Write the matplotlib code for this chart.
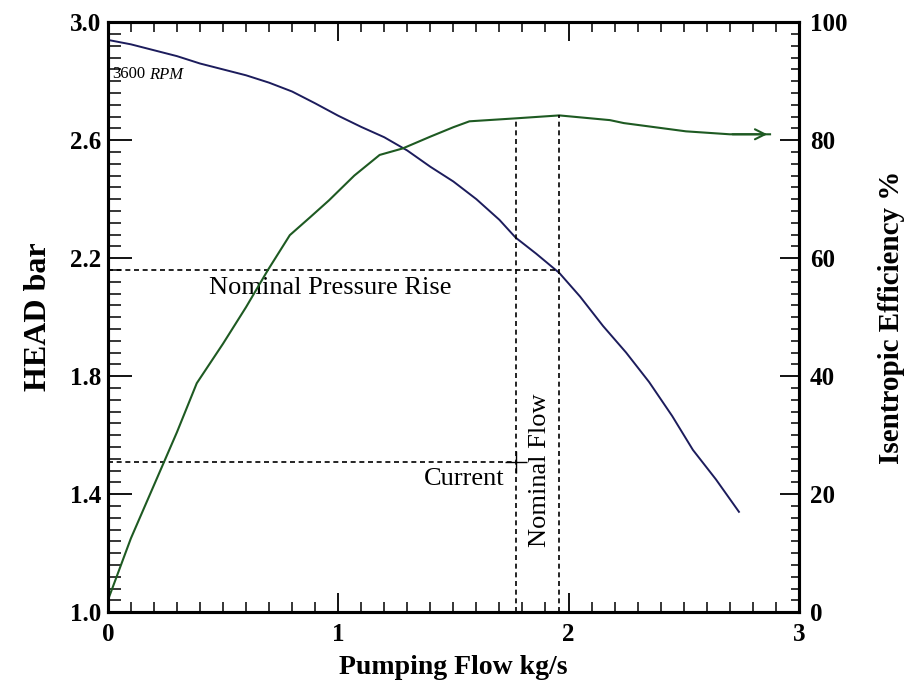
import numpy as np
import matplotlib.pyplot as plt
from matplotlib.ticker import MultipleLocator, FixedLocator

plt.rcParams['font.family'] = ['Liberation Serif', 'DejaVu Serif']

# Pump head curve (bar) vs pumping flow (kg/s)
head_flow = [0.0, 0.1, 0.2, 0.3, 0.4, 0.5, 0.6, 0.7, 0.8, 0.9, 1.0, 1.1, 1.2, 1.3, 1.4, 1.5, 1.6,
             1.7, 1.77, 1.86, 1.96, 2.05, 2.15, 2.25, 2.35, 2.45, 2.54, 2.64, 2.74]
head_bar = [2.94, 2.925, 2.905, 2.885, 2.86, 2.84, 2.82, 2.795, 2.765, 2.725, 2.683, 2.645, 2.61, 2.565,
            2.51, 2.46, 2.40, 2.33, 2.27, 2.215, 2.15, 2.07, 1.97, 1.88, 1.78, 1.665, 1.55, 1.45, 1.34]

# Isentropic efficiency (%) vs pumping flow (kg/s)
eff_flow = [0.0, 0.1, 0.2, 0.3, 0.386, 0.5, 0.60, 0.695, 0.79, 0.88, 0.96, 1.07, 1.18, 1.28, 1.4,
            1.5, 1.57, 1.77, 1.96, 2.18, 2.24, 2.51, 2.70, 2.875]
eff_pct = [2.0, 12.5, 21.5, 30.5, 38.8, 45.5, 51.7, 58.0, 63.9, 67.0, 69.8, 74.0, 77.5, 78.6, 80.6,
           82.2, 83.2, 83.7, 84.2, 83.4, 82.9, 81.5, 81.0, 81.0]

# operating points
nominal_flow = [1.77, 1.96]
nominal_flow_eff = [83.7, 84.2]
nominal_pressure = 2.16
current_head = 1.51
current_flow = 1.77

head_color = "#1c1c5c"
eff_color = "#1e5a22"

fig = plt.figure(figsize=(9.14, 6.94), dpi=100)
ax = fig.add_axes([0.118, 0.118, 0.756, 0.85])
ax2 = ax.twinx()

ax.plot(head_flow, head_bar, color=head_color, linewidth=1.4)
ax2.plot(eff_flow, eff_pct, color=eff_color, linewidth=1.5)
ax2.annotate('', xy=(eff_flow[-1], eff_pct[-1]), xytext=(eff_flow[-2], eff_pct[-2]),
             arrowprops=dict(arrowstyle='->', color=eff_color, lw=1.5, mutation_scale=18))

# dashed guide lines
dash = (0, (3, 2.2))
ax.plot([0, nominal_flow[1]], [nominal_pressure, nominal_pressure], color='black', linestyle=dash, linewidth=1.2)
ax.plot([0, current_flow], [current_head, current_head], color='black', linestyle=dash, linewidth=1.2)
for fx, fe in zip(nominal_flow, nominal_flow_eff):
    ax2.plot([fx, fx], [0, fe], color='black', linestyle=dash, linewidth=1.2)
ax.plot([current_flow], [current_head], marker='+', color='black', markersize=16, markeredgewidth=1.0)

ax.text(0.44, 2.1, "Nominal Pressure Rise", fontsize=19, ha='left', va='center')
ax.text(1.72, 1.45, "Current", fontsize=19, ha='right', va='center')
ax.text(1.875, 1.48, "Nominal Flow", fontsize=19, rotation=90, ha='center', va='center')
ax.text(0.02, 2.825, "3600", fontsize=12, ha='left', va='center')
ax.text(0.18, 2.82, "RPM", fontsize=12, style='italic', ha='left', va='center')

ax.set_xlim(0, 3)
ax.set_ylim(1.0, 3.0)
ax2.set_ylim(0, 100)

ax.xaxis.set_major_locator(MultipleLocator(1))
ax.xaxis.set_minor_locator(MultipleLocator(0.1))
ax.yaxis.set_major_locator(FixedLocator(np.linspace(1.0, 3.0, 6)))
ax.yaxis.set_minor_locator(FixedLocator(np.linspace(1.0, 3.0, 51)))
ax2.yaxis.set_major_locator(MultipleLocator(20))
ax2.yaxis.set_minor_locator(MultipleLocator(2))

ax.tick_params(axis='x', which='both', direction='in', top=True, labelsize=18, pad=8)
ax.tick_params(axis='x', which='major', length=14, width=1.3)
ax.tick_params(axis='x', which='minor', length=7, width=1.1)
ax.tick_params(axis='y', which='both', direction='in', right=False, labelsize=18, pad=5)
ax.tick_params(axis='y', which='major', length=17, width=1.3)
ax.tick_params(axis='y', which='minor', length=9, width=1.1)
ax2.tick_params(axis='y', which='both', direction='in', labelsize=18, pad=8)
ax2.tick_params(axis='y', which='major', length=14, width=1.3)
ax2.tick_params(axis='y', which='minor', length=6, width=1.1)

ax.set_yticklabels([f"{v:.1f}" for v in ax.get_yticks()], fontweight='bold')
for lbl in ax.get_xticklabels() + ax2.get_yticklabels():
    lbl.set_fontweight('bold')

for a in (ax, ax2):
    for s in a.spines.values():
        s.set_linewidth(2.2)

ax.set_xlabel("Pumping Flow kg/s", fontsize=20, fontweight='bold', labelpad=6)
ax.set_ylabel("HEAD bar", fontsize=23, fontweight='bold', labelpad=12)
ax2.set_ylabel("Isentropic Efficiency %", fontsize=21, fontweight='bold', labelpad=22)

fig.savefig("out.png", dpi=100)
